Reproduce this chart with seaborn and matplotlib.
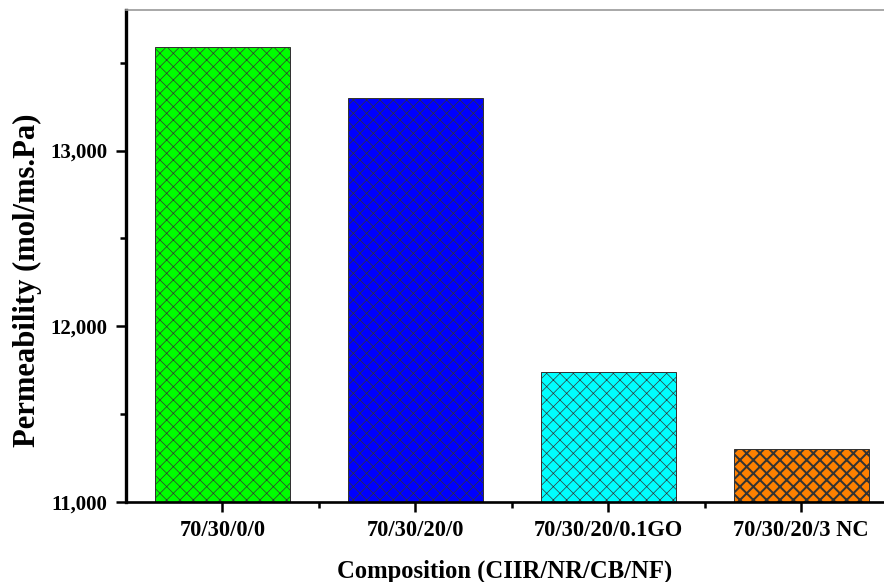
import matplotlib
matplotlib.use("Agg")
import matplotlib.pyplot as plt
from matplotlib.ticker import FixedLocator, MultipleLocator, FuncFormatter
import seaborn as sns
import pandas as pd

# Composition (CIIR/NR/CB/NF) and measured permeability
compositions = ["70/30/0/0", "70/30/20/0", "70/30/20/0.1GO", "70/30/20/3 NC"]
permeability = [13590, 13300, 11740, 11300]
bar_colors = ["#00FF00", "#0000FF", "#00FFFF", "#FF8000"]
y_ticks = [11000, 12000, 13000]

sns.set_style("ticks")
plt.rcParams["font.family"] = ["Liberation Serif", "DejaVu Serif"]
plt.rcParams["font.weight"] = "bold"
plt.rcParams["text.color"] = "black"
plt.rcParams["axes.labelcolor"] = "black"
plt.rcParams["xtick.color"] = "black"
plt.rcParams["ytick.color"] = "black"
plt.rcParams["hatch.linewidth"] = 0.4

DPI = 120
fig = plt.figure(figsize=(884 / DPI, 582 / DPI), dpi=DPI)
ax = fig.add_axes([126 / 884, 80 / 582, 758 / 884, 492 / 582])

df = pd.DataFrame({"Composition": compositions, "Permeability": permeability})
sns.barplot(data=df, x="Composition", y="Permeability", hue="Composition",
            palette=bar_colors, saturation=1, legend=False, width=0.7, ax=ax,
            edgecolor="#333333", linewidth=0.6)

for i, patch in enumerate(ax.patches):
    patch.set_hatch("xxx")
    if i == 3 and hasattr(patch, "set_hatch_linewidth"):
        patch.set_hatch_linewidth(1.2)

ax.set_xlim(-0.5, 3.43)
ax.set_ylim(11000, 13800)

ax.yaxis.set_major_locator(FixedLocator(y_ticks))
ax.yaxis.set_minor_locator(MultipleLocator(500))
ax.yaxis.set_major_formatter(FuncFormatter(lambda v, p: f"{int(v):,}"))
ax.xaxis.set_minor_locator(FixedLocator([0.5, 1.5, 2.5]))

ax.tick_params(axis="both", which="major", direction="out", length=6, width=1.5,
               pad=5, color="black", labelcolor="black")
ax.tick_params(axis="x", which="major", labelsize=13.5)
ax.tick_params(axis="y", which="major", labelsize=12.5)
ax.tick_params(axis="both", which="minor", direction="out", length=3.5, width=1.5,
               color="black")
for lab in ax.get_xticklabels() + ax.get_yticklabels():
    lab.set_fontweight("bold")

ax.set_xlabel("Composition (CIIR/NR/CB/NF)", fontsize=14.8, fontweight="bold",
              labelpad=11, color="black")
ax.set_ylabel("Permeability (mol/ms.Pa)", fontsize=18.4, fontweight="bold",
              color="black")
ax.yaxis.set_label_coords(-0.111, 0.45)

ax.spines["left"].set_linewidth(2.0)
ax.spines["bottom"].set_linewidth(1.6)
ax.spines["left"].set_color("black")
ax.spines["bottom"].set_color("black")
ax.spines["top"].set_visible(True)
ax.spines["top"].set_color("#999999")
ax.spines["top"].set_linewidth(1.0)
ax.spines["right"].set_visible(False)

fig.savefig("out.png", dpi=DPI)
